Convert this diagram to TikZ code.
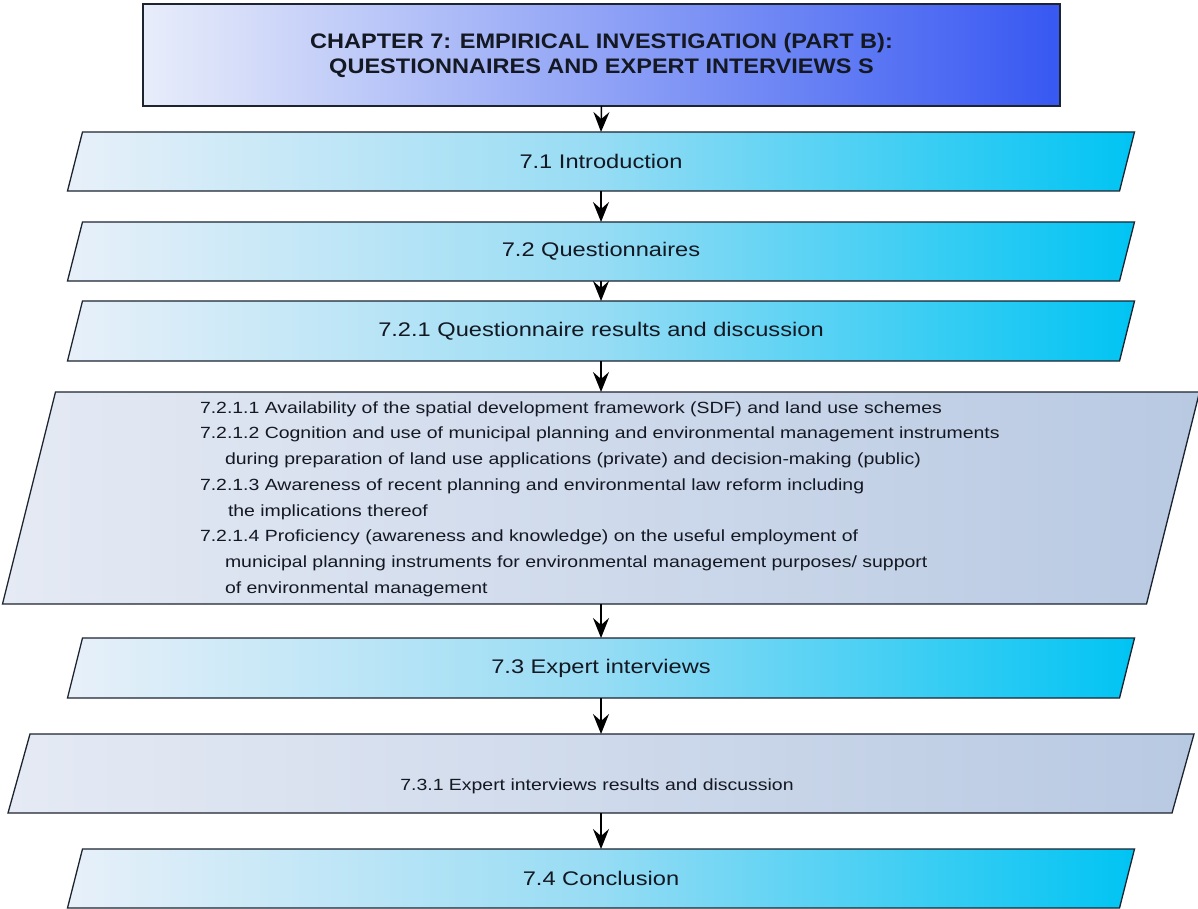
\documentclass[tikz,border=0pt]{standalone}
\usepackage{fontspec}
\setmainfont{Liberation Sans}
\newfontfamily\headfont[FakeStretch=1.12]{Liberation Sans}
\newfontfamily\boxfont[FakeStretch=1.2]{Liberation Sans}
\usetikzlibrary{arrows.meta,backgrounds}

\definecolor{edgecol}{RGB}{28,36,48}
\definecolor{inkcol}{RGB}{20,24,34}
\definecolor{headL}{RGB}{232,237,250}
\definecolor{headR}{RGB}{55,88,242}
\definecolor{cyanL}{RGB}{232,240,249}
\definecolor{cyanM}{RGB}{150,220,244}
\definecolor{cyanR}{RGB}{0,196,243}
\definecolor{greyL}{RGB}{229,234,244}
\definecolor{greyR}{RGB}{184,201,226}

\tikzset{
  frame/.style={draw=edgecol, line width=1.3pt},
  body/.style={rectangle, inner sep=0pt, outer sep=0pt, text=inkcol},
  flow/.style={draw=black, line width=1.5pt, -{Stealth[length=20pt,width=16pt,inset=7pt]}},
  cyanfill/.style={left color=cyanL, right color=cyanR, middle color=cyanM},
  greyfill/.style={left color=greyL, right color=greyR},
  headtext/.style={font=\headfont\bfseries\fontsize{21}{25}\selectfont, align=center},
  steptext/.style={font=\boxfont\fontsize{19.7}{23}\selectfont},
  smalltext/.style={font=\boxfont\fontsize{16.2}{25.7}\selectfont},
}

% parallelogram drawn around a rectangle node:
% #1 node name, #2 half of the horizontal slant, #3 fill style
\newcommand\slantpath[3]{%
  \path[frame,#3] ([xshift=-#2]#1.south west) -- ([xshift=#2]#1.north west)
     -- ([xshift=#2]#1.north east) -- ([xshift=-#2]#1.south east) -- cycle;}

\begin{document}
\begin{tikzpicture}[x=1pt,y=-1pt]
\useasboundingbox (0,0) rectangle (1198,909);

% chapter heading
\node[body, frame, left color=headL, right color=headR,
      minimum width=917pt, minimum height=102pt, headtext] (title) at (601.5,55)
  {CHAPTER 7: EMPIRICAL INVESTIGATION (PART B):\\QUESTIONNAIRES AND EXPERT INTERVIEWS S};

% section boxes
\node[body, minimum width=1052pt, minimum height=59pt, steptext] (b71) at (601,161.5) {7.1 Introduction};
\node[body, minimum width=1052pt, minimum height=59pt, steptext] (b72) at (601,251.5) {7.2 Questionnaires};
\node[body, minimum width=1052pt, minimum height=60pt, steptext] (b721) at (601,331) {7.2.1 Questionnaire results and discussion};
\node[body, minimum width=1144pt, minimum height=212pt] (bq) at (601,498) {};
\node[body, minimum width=1052pt, minimum height=60pt, steptext] (b73) at (601,668) {7.3 Expert interviews};
\node[body, minimum width=1164pt, minimum height=79pt] (b731) at (601,773.5) {};
\node[body, minimum width=1052pt, minimum height=59pt, steptext] (b74) at (601,878.5) {7.4 Conclusion};

% texts of the two plain boxes
\node[body, anchor=west, align=left, smalltext] (qlist) at (200,499)
  {7.2.1.1 Availability of the spatial development framework (SDF) and land use schemes\\
   7.2.1.2 Cognition and use of municipal planning and environmental management instruments\\
   \hspace*{25pt}during preparation of land use applications (private) and decision-making (public)\\
   7.2.1.3 Awareness of recent planning and environmental law reform including\\
   \hspace*{28pt}the implications thereof\\
   7.2.1.4 Proficiency (awareness and knowledge) on the useful employment of\\
   \hspace*{25pt}municipal planning instruments for environmental management purposes/ support\\
   \hspace*{25pt}of environmental management};
\node[body, smalltext] (t731) at (597,786) {7.3.1 Expert interviews results and discussion};

% slanted outlines behind the texts
\begin{scope}[on background layer]
  \slantpath{b71}{7.5pt}{cyanfill}
  \slantpath{b72}{7.5pt}{cyanfill}
  \slantpath{b721}{7.5pt}{cyanfill}
  \slantpath{bq}{26.5pt}{greyfill}
  \slantpath{b73}{7.5pt}{cyanfill}
  \slantpath{b731}{11pt}{greyfill}
  \slantpath{b74}{7.5pt}{cyanfill}
\end{scope}

% connectors
\draw[flow] (title.south) -- (b71.north);
\draw[flow] (b71.south) -- (b72.north);
\draw[flow] (b72.south) -- (b721.north);
\draw[flow] (b721.south) -- (bq.north);
\draw[flow] (bq.south) -- (b73.north);
\draw[flow] (b73.south) -- (b731.north);
\draw[flow] (b731.south) -- (b74.north);
\end{tikzpicture}
\end{document}
